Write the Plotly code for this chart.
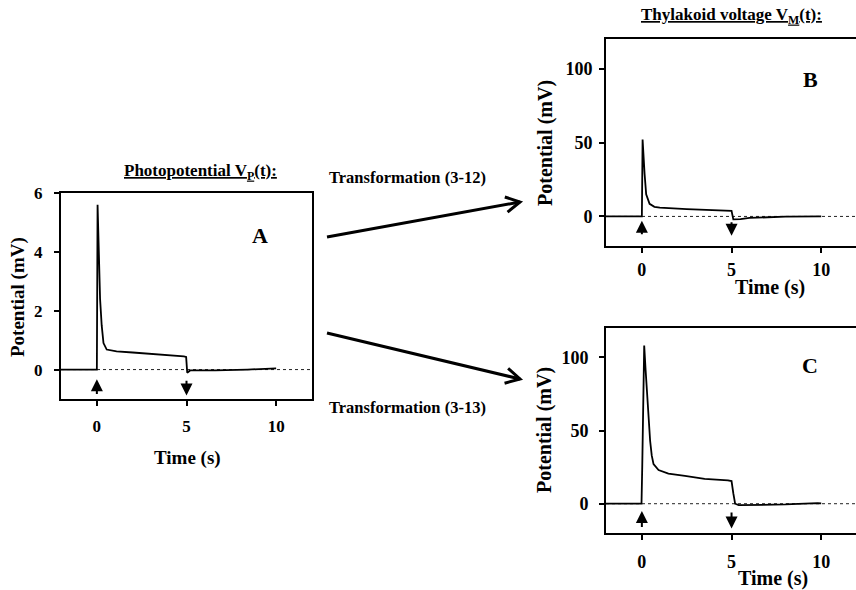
import numpy as np
import plotly.graph_objects as go

W, H = 856, 590
SERIF = '"Liberation Serif", "Times New Roman", Times, serif'

# Panel A: photopotential V_P(t) in mV
t_a = [-2, 0, 0.04, 0.13, 0.18, 0.27, 0.37, 0.55, 0.8, 1.1, 2.0, 2.9, 4.0, 4.85, 4.98,
       5.04, 5.2, 6.6, 8.4, 9.3, 9.8, 10]
v_a = [0, 0, 5.6, 3.5, 2.4, 1.5, 0.9, 0.68, 0.65, 0.62, 0.58, 0.54, 0.5, 0.45, 0.43,
       -0.11, -0.03, -0.03, 0, 0.03, 0.05, 0.04]

# Panel B: thylakoid voltage V_M(t), transformation (3-12), mV
t_b = [-2, 0, 0.04, 0.1, 0.15, 0.24, 0.33, 0.43, 0.7, 1.0, 2.5, 4.0, 4.9, 5.0,
       5.1, 5.5, 6.0, 8.0, 10]
v_b = [0, 0, 52, 38, 29, 15, 11, 8.5, 6.5, 6.0, 5.0, 4.4, 4.0, 3.8,
       -2, -1.8, -1.0, -0.2, 0]

# Panel C: thylakoid voltage V_M(t), transformation (3-13), mV
t_c = [-2, -0.02, 0.02, 0.13, 0.2, 0.28, 0.37, 0.46, 0.55, 0.65, 0.93, 1.48, 2.4,
       3.5, 4.8, 5.0, 5.1, 5.2, 5.4, 6.1, 8.0, 9.8, 10]
v_c = [0, 0, 25, 108, 93, 78, 58, 43, 33, 27, 23, 20.5, 19,
       17, 16, 15.5, 7, 0, -1, -1, -0.5, 0.4, 0.2]

# stimulus markers: light on (up) and light off (down)
t_on, t_off = 0, 5

x_ticks = [0, 5, 10]
y_ticks_a = [0, 2, 4, 6]
y_ticks_bc = [0, 50, 100]


def px(x):
    return x / W


def py(y):
    return 1 - y / H


def font(size):
    return dict(family=SERIF, size=size, color="black", weight="bold")


fig = go.Figure()

panels = [
    # (t, v, xaxis id, yaxis id, arrow head/tail offsets)
    (t_a, v_a, "x", "y", (-0.33, -0.88)),
    (t_b, v_b, "x2", "y2", (-3, -13)),
    (t_c, v_c, "x3", "y3", (-5, -17)),
]

for t, v, xa, ya, _ in panels:
    # dotted zero reference
    fig.add_trace(go.Scatter(x=[-2, 12], y=[0, 0], mode="lines", xaxis=xa, yaxis=ya,
                             line=dict(color="#222", width=1, dash="dot"),
                             showlegend=False, hoverinfo="skip"))
    fig.add_trace(go.Scatter(x=t, y=v, mode="lines", xaxis=xa, yaxis=ya,
                             line=dict(color="black", width=1.8),
                             showlegend=False))

axis_common = dict(showgrid=False, zeroline=False, showline=True, linecolor="black",
                   linewidth=2, ticks="outside", ticklen=5, tickwidth=1.5,
                   tickcolor="black", automargin=False)

fig.update_layout(
    template="none",
    width=W, height=H, margin=dict(l=0, r=0, t=0, b=0, autoexpand=False),
    paper_bgcolor="white", plot_bgcolor="white",
    xaxis=dict(domain=[px(61), px(312)], range=[-2, 12], tickvals=x_ticks,
               mirror=True, anchor="y", ticklabelstandoff=6, tickfont=font(17),
               **axis_common),
    yaxis=dict(domain=[py(399), py(193)], range=[-1, 6], tickvals=y_ticks_a,
               mirror=True, anchor="x", ticklabelstandoff=8, tickfont=font(17),
               **axis_common),
    xaxis2=dict(domain=[px(606), 1], range=[-2, 11.94], tickvals=x_ticks,
                mirror=True, anchor="y2", ticklabelstandoff=1, tickfont=font(18),
                **axis_common),
    yaxis2=dict(domain=[py(246), py(39)], range=[-20, 120], tickvals=y_ticks_bc,
                mirror=False, anchor="x2", ticklabelstandoff=3, tickfont=font(18),
                **axis_common),
    xaxis3=dict(domain=[px(606), 1], range=[-2, 11.94], tickvals=x_ticks,
                mirror=True, anchor="y3", ticklabelstandoff=6, tickfont=font(18),
                **axis_common),
    yaxis3=dict(domain=[py(533), py(328)], range=[-20, 120], tickvals=y_ticks_bc,
                mirror=False, anchor="x3", ticklabelstandoff=7, tickfont=font(18),
                **axis_common),
)

annotations = []

# light on / off arrows below each trace
for t, v, xa, ya, (head, tail) in panels:
    for tx, up in ((t_on, True), (t_off, False)):
        annotations.append(dict(
            x=tx, y=head if up else tail, ax=tx, ay=tail if up else head,
            xref=xa, yref=ya, axref=xa, ayref=ya, text="", showarrow=True,
            arrowhead=2, arrowsize=1.2, arrowwidth=2, arrowcolor="black"))


def label(x, y, text, size, angle=0):
    annotations.append(dict(x=px(x), y=py(y), xref="paper", yref="paper", text=text,
                            showarrow=False, font=font(size), textangle=angle,
                            xanchor="center", yanchor="middle"))


# panel titles
label(200, 172, "<u>Photopotential V<sub>P</sub>(t):</u>", 17)
label(731, 16, "<u>Thylakoid voltage V<sub>M</sub>(t):</u>", 17)

# panel letters
label(260, 235, "A", 22)
label(810, 80, "B", 22)
label(810, 365, "C", 22)

# axis titles
label(18, 297, "Potential (mV)", 19, -90)
label(187, 458, "Time (s)", 19)
label(545, 143, "Potential (mV)", 20, -90)
label(770, 287, "Time (s)", 20)
label(545, 430, "Potential (mV)", 20, -90)
label(773, 578, "Time (s)", 20)

# transformation labels
label(407, 177, "Transformation (3-12)", 16.5)
label(407, 407, "Transformation (3-13)", 16.5)

fig.update_layout(annotations=annotations)

# transformation arrows between panels (open chevron heads)
shapes = []
for (x0, y0), (x1, y1) in (((327, 237), (520, 202)), ((327, 333), (520, 379))):
    shapes.append(dict(type="line", xref="paper", yref="paper",
                       x0=px(x0), y0=py(y0), x1=px(x1), y1=py(y1),
                       line=dict(color="black", width=3)))
    ang = np.arctan2(y1 - y0, x1 - x0)
    arm = 16
    pts = []
    for d in (np.pi - 0.5, np.pi + 0.5):
        pts.append((x1 + arm * np.cos(ang + d), y1 + arm * np.sin(ang + d)))
    path = (f"M {px(pts[0][0])},{py(pts[0][1])} L {px(x1)},{py(y1)} "
            f"L {px(pts[1][0])},{py(pts[1][1])}")
    shapes.append(dict(type="path", xref="paper", yref="paper", path=path,
                       line=dict(color="black", width=3)))
fig.update_layout(shapes=shapes)

fig.write_html("out.html")
